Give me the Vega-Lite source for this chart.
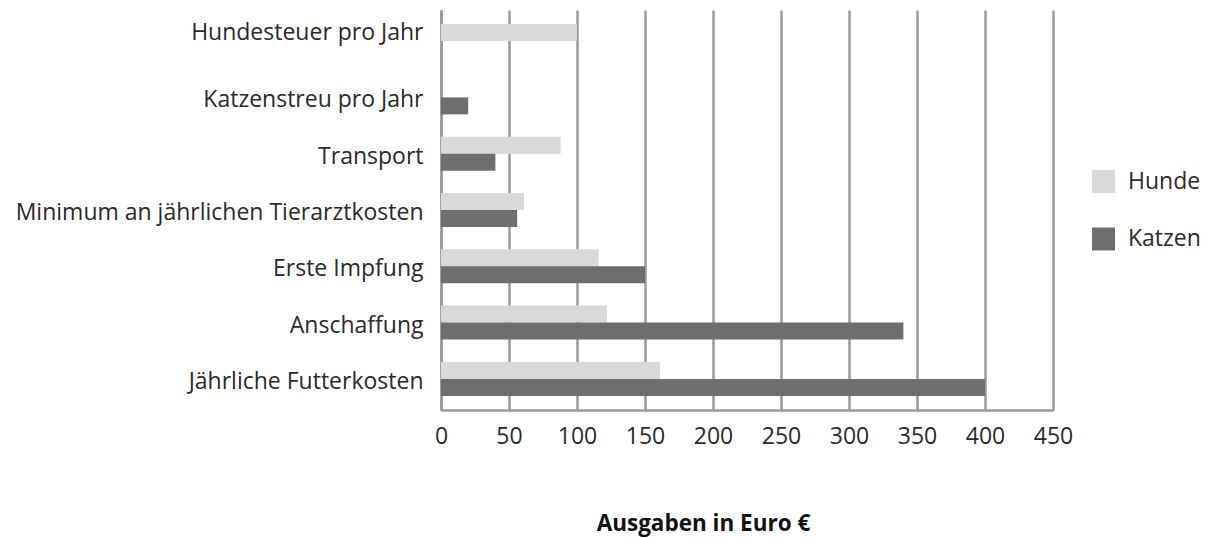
{
  "$schema": "https://vega.github.io/schema/vega-lite/v6.json",
  "width": 612,
  "height": 400,
  "autosize": {"type": "none"},
  "padding": {"left": 441, "top": 10, "right": 167, "bottom": 128},
  "config": {
    "font": "Open Sans",
    "view": {"stroke": null},
    "axis": {"labelFont": "Open Sans", "titleFont": "Open Sans"}
  },
  "data": {
    "values": [
      {"kategorie": "Hundesteuer pro Jahr", "tier": "Hunde", "euro": 100},
      {"kategorie": "Katzenstreu pro Jahr", "tier": "Katzen", "euro": 20},
      {"kategorie": "Transport", "tier": "Hunde", "euro": 88},
      {"kategorie": "Transport", "tier": "Katzen", "euro": 40},
      {"kategorie": "Minimum an jährlichen Tierarztkosten", "tier": "Hunde", "euro": 61},
      {"kategorie": "Minimum an jährlichen Tierarztkosten", "tier": "Katzen", "euro": 56},
      {"kategorie": "Erste Impfung", "tier": "Hunde", "euro": 116},
      {"kategorie": "Erste Impfung", "tier": "Katzen", "euro": 150},
      {"kategorie": "Anschaffung", "tier": "Hunde", "euro": 122},
      {"kategorie": "Anschaffung", "tier": "Katzen", "euro": 340},
      {"kategorie": "Jährliche Futterkosten", "tier": "Hunde", "euro": 161},
      {"kategorie": "Jährliche Futterkosten", "tier": "Katzen", "euro": 400}
    ]
  },
  "mark": {"type": "bar"},
  "encoding": {
    "y": {
      "field": "kategorie",
      "type": "nominal",
      "sort": ["Hundesteuer pro Jahr", "Katzenstreu pro Jahr", "Transport", "Minimum an jährlichen Tierarztkosten", "Erste Impfung", "Anschaffung", "Jährliche Futterkosten"],
      "scale": {"paddingInner": 0.396, "paddingOuter": 0.25},
      "axis": {
        "title": null,
        "ticks": false,
        "domain": true,
        "domainColor": "#9a9a9a",
        "domainWidth": 2.5,
        "labelFontSize": 23,
        "labelColor": "#2a2a2a",
        "labelPadding": 18,
        "labelLimit": 500,
        "labelOffset": {"condition": {"test": "datum.value == 'Hundesteuer pro Jahr'", "value": -8}, "value": 3}
      }
    },
    "yOffset": {
      "field": "tier",
      "type": "nominal",
      "sort": ["Hunde", "Katzen"],
      "scale": {"domain": ["Hunde", "Katzen"], "paddingInner": 0, "paddingOuter": 0}
    },
    "x": {
      "field": "euro",
      "type": "quantitative",
      "scale": {"domain": [0, 450], "nice": false},
      "axis": {
        "values": [0, 50, 100, 150, 200, 250, 300, 350, 400, 450],
        "grid": true,
        "gridColor": "#9a9a9a",
        "gridWidth": 2.5,
        "ticks": false,
        "domain": true,
        "domainColor": "#9a9a9a",
        "domainWidth": 2.5,
        "labelFontSize": 23,
        "labelColor": "#2a2a2a",
        "labelPadding": 15,
        "labelFlush": false,
        "title": "Ausgaben in Euro €",
        "titleFontSize": 22.5,
        "titleFontWeight": "bold",
        "titleColor": "#111111",
        "titleX": 262,
        "titleY": 113,
        "titleAlign": "center",
        "titleBaseline": "middle"
      }
    },
    "color": {
      "field": "tier",
      "type": "nominal",
      "scale": {"domain": ["Hunde", "Katzen"], "range": ["#d9d9db", "#6e6e6e"]},
      "legend": {
        "title": null,
        "orient": "none",
        "legendX": 651,
        "legendY": 160,
        "padding": 0,
        "symbolType": "square",
        "symbolSize": 529,
        "symbolStrokeWidth": 0,
        "labelFontSize": 23,
        "labelColor": "#2a2a2a",
        "labelOffset": 13,
        "rowPadding": 33.5,
        "encode": {
          "symbols": {
            "update": {
              "fill": {"signal": "datum.value == 'Katzen' ? '#5b5b5b' : '#d9d9db'"}
            }
          }
        }
      }
    }
  }
}
